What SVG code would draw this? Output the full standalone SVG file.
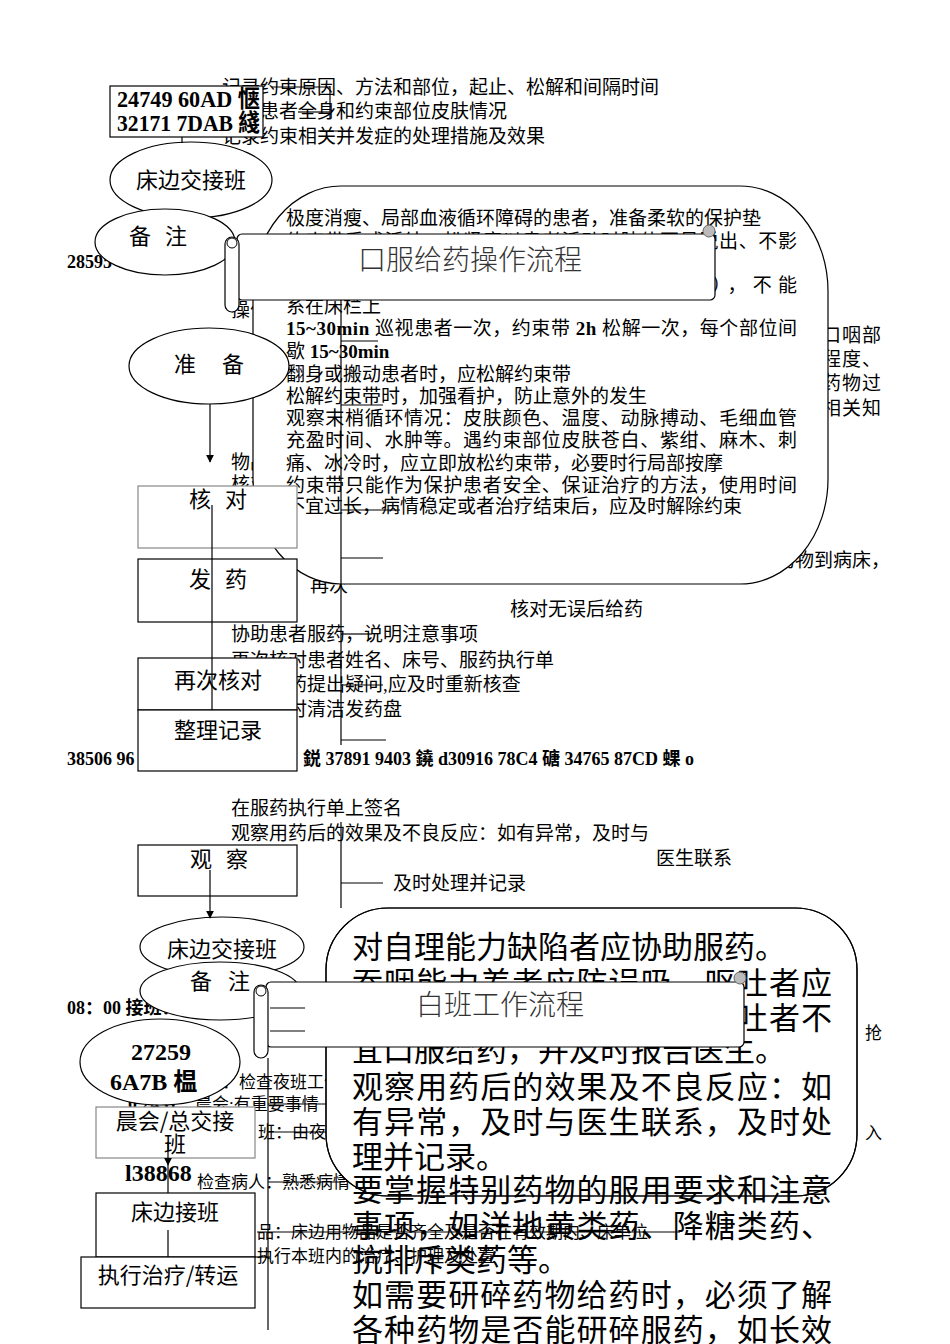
<svg xmlns="http://www.w3.org/2000/svg" width="950" height="1344" viewBox="0 0 950 1344">
<style>
.t{font-family:"Liberation Serif","Noto Sans CJK SC",serif;font-size:19px;fill:#000}
.s{font-family:"Liberation Serif","Noto Sans CJK SC",serif;font-size:17px;fill:#000}
.n{font-family:"Liberation Serif","Noto Sans CJK SC",serif;font-weight:bold;font-size:18px;fill:#000}
.nb{font-family:"Liberation Serif","Noto Sans CJK SC",serif;font-weight:bold;font-size:24px;fill:#000}
.nd{font-family:"Noto Sans CJK SC",sans-serif;font-size:22px;fill:#000;text-anchor:middle}
.big{font-family:"Noto Sans CJK SC",sans-serif;font-size:31px;fill:#000}
.ban{font-family:"Noto Sans CJK SC",sans-serif;font-weight:300;font-size:28px;fill:#333;text-anchor:middle}
.sh{fill:#fff;stroke:#000;stroke-width:1.2}
.gr{fill:#fff;stroke:#888;stroke-width:1.2}
.ln{fill:none;stroke:#000;stroke-width:1.2}
.b{font-weight:bold}
</style>
<defs>
<marker id="arr" viewBox="0 0 10 10" refX="9" refY="5" markerWidth="8" markerHeight="8" orient="auto" markerUnits="userSpaceOnUse">
<path d="M0,0 L10,5 L0,10 z" fill="#000"/>
</marker>
</defs>

<!-- background texts (partly hidden) -->
<g id="bg-texts">
<text class="t" x="222" y="94">记录约束原因、方法和部位，起止、松解和间隔时间</text>
<text class="t" x="222" y="118">观察患者全身和约束部位皮肤情况</text>
<text class="t" x="222" y="143">记录约束相关并发症的处理措施及效果</text>
<text class="n" x="67" y="268">28595 6FB3 澳 14</text>
<text class="t" x="231" y="317">操作前评估患者</text>
<text class="t" x="231" y="469">物品准备齐全</text>
<text class="t" x="231" y="491">核对医嘱</text>
<text class="t" x="882" y="342" text-anchor="end" letter-spacing="1">评估患者病情、吞咽能力及口咽部</text>
<text class="t" x="882" y="366" text-anchor="end" letter-spacing="1">了解患者合作程度、</text>
<text class="t" x="882" y="390" text-anchor="end" letter-spacing="1">有无药物过</text>
<text class="t" x="882" y="415" text-anchor="end" letter-spacing="1">敏史及相关知</text>
<text class="t" x="890" y="567" text-anchor="end">携带服药执行单及药物到病床，</text>
<text class="t" x="310" y="592">再次</text>
</g>

<g id="n-code1">
<rect class="sh" x="110" y="86" width="153" height="51"/>
<text class="nb" x="117" y="107" font-size="20" textLength="143" lengthAdjust="spacingAndGlyphs">24749 60AD 惬</text>
<text class="nb" x="117" y="131" font-size="20" textLength="143" lengthAdjust="spacingAndGlyphs">32171 7DAB 綫</text>
</g>

<g id="n-bedside1">
<ellipse class="sh" cx="191" cy="180" rx="81" ry="38"/>
<text class="nd" x="191" y="188">床边交接班</text>
</g>
<g id="n-note1">
<ellipse class="sh" cx="165" cy="242" rx="70" ry="33"/>
<text class="nd" x="165" y="244" letter-spacing="14">备注</text>
</g>

<!-- restraint note callout -->
<g id="n-restraint">
<rect class="sh" x="253" y="186" width="575" height="398" rx="88" ry="105"/>
<text class="t" x="286" y="225">极度消瘦、局部血液循环障碍的患者，准备柔软的保护垫</text>
<text class="t" x="286" y="248" textLength="511" lengthAdjust="spacing">约束带系成活结，松紧度以患者活动时肢体不易脱出、不影</text>
<text class="t" x="286" y="270">响血液循环为宜，约束带要牢固</text>
<text class="t" x="286" y="292" textLength="511" lengthAdjust="spacing">约束带松紧适宜（以能伸入<tspan class="b">1~2</tspan>指为宜），不能</text>
<text class="t" x="286" y="313">系在床栏上</text>
<text class="t" x="286" y="335" textLength="511" lengthAdjust="spacing"><tspan class="b">15~30min</tspan> 巡视患者一次，约束带 <tspan class="b">2h</tspan> 松解一次，每个部位间</text>
<text class="t" x="286" y="358">歇 <tspan class="b">15~30min</tspan></text>
<text class="t" x="286" y="381">翻身或搬动患者时，应松解约束带</text>
<text class="t" x="286" y="403">松解约束带时，加强看护，防止意外的发生</text>
<text class="t" x="286" y="425" textLength="511" lengthAdjust="spacing">观察末梢循环情况：皮肤颜色、温度、动脉搏动、毛细血管</text>
<text class="t" x="286" y="447" textLength="511" lengthAdjust="spacing">充盈时间、水肿等。遇约束部位皮肤苍白、紫绀、麻木、刺</text>
<text class="t" x="286" y="470">痛、冰冷时，应立即放松约束带，必要时行局部按摩</text>
<text class="t" x="286" y="492" textLength="511" lengthAdjust="spacing">约束带只能作为保护患者安全、保证治疗的方法，使用时间</text>
<text class="t" x="286" y="513">不宜过长，病情稳定或者治疗结束后，应及时解除约束</text>
</g>

<!-- middle free texts -->
<g id="mid-texts">
<text class="t" x="510" y="616">核对无误后给药</text>
<text class="t" x="231" y="641">协助患者服药，说明注意事项</text>
<text class="t" x="231" y="667">再次核对患者姓名、床号、服药执行单</text>
<text class="t" x="231" y="691">如对服药提出疑问,应及时重新核查</text>
<text class="t" x="231" y="716">用后及时清洁发药盘</text>
<text class="n" x="67" y="765">38506 96</text>
<text class="n" x="303" y="765">鋭 37891 9403 鐃 d30916 78C4 磄 34765 87CD 蜾 o</text>
<text class="t" x="231" y="815">在服药执行单上签名</text>
<text class="t" x="231" y="840">观察用药后的效果及不良反应：如有异常，及时与</text>
<text class="t" x="656" y="865">医生联系</text>
<text class="t" x="393" y="890">及时处理并记录</text>
</g>

<g id="n-prep">
<ellipse class="sh" cx="209" cy="366" rx="80" ry="38"/>
<text class="nd" x="222" y="372" font-size="26" letter-spacing="26">准备</text>
</g>
<g id="n-check">
<rect class="gr" x="138" y="486" width="159" height="62"/>
<text class="nd" x="225" y="507" font-size="25" letter-spacing="14">核对</text>
</g>
<g id="n-dispense">
<rect class="sh" x="138" y="559" width="159" height="63"/>
<text class="nd" x="225" y="587" font-size="25" letter-spacing="14">发药</text>
</g>
<g id="n-recheck">
<rect class="sh" x="138" y="658" width="159" height="52"/>
<text class="nd" x="218" y="688" font-size="25">再次核对</text>
</g>
<g id="n-record">
<rect class="sh" x="138" y="710" width="159" height="61"/>
<text class="nd" x="218" y="738" font-size="25">整理记录</text>
</g>
<g id="n-observe">
<rect class="sh" x="138" y="845" width="159" height="51"/>
<text class="nd" x="226" y="867" letter-spacing="14">观察</text>
</g>

<!-- bottom section background texts -->
<g id="bg-texts2">
<text class="n" x="67" y="1014">08：00 接班：护士</text>
<text class="s" x="205" y="1088">员：检查夜班工作</text>
<text class="n" x="128" y="1110">0 2431</text>
<text class="s" x="195" y="1110">晨会:有重要事情</text>
<text class="s" x="258" y="1138">班：由夜班</text>
<text class="s" x="197" y="1188">检查病人：熟悉病情</text>
<text class="s" x="882" y="1039" text-anchor="end">抢</text>
<text class="s" x="882" y="1139" text-anchor="end">入</text>
</g>

<g id="n-oral">
<rect class="sh" x="326" y="908" width="531" height="288" rx="62" ry="62"/>
<text class="big" x="352" y="958">对自理能力缺陷者应协助服药。</text>
<text class="big" x="352" y="994" textLength="480" lengthAdjust="spacing">吞咽能力差者应防误吸，呕吐者应</text>
<text class="big" x="352" y="1029" textLength="480" lengthAdjust="spacing">暂停给药；对严重恶心、呕吐者不</text>
<text class="big" x="352" y="1061">宜口服给药，并及时报告医生。</text>
<text class="big" x="352" y="1098" textLength="480" lengthAdjust="spacing">观察用药后的效果及不良反应：如</text>
<text class="big" x="352" y="1133" textLength="480" lengthAdjust="spacing">有异常，及时与医生联系，及时处</text>
<text class="big" x="352" y="1168">理并记录。</text>
<text class="big" x="352" y="1201" textLength="480" lengthAdjust="spacing">要掌握特别药物的服用要求和注意</text>
<text class="big" x="352" y="1237" textLength="480" lengthAdjust="spacing">事项，如洋地黄类药、降糖类药、</text>
<text class="big" x="352" y="1271">抗排斥类药等。</text>
<text class="big" x="352" y="1306" textLength="480" lengthAdjust="spacing">如需要研碎药物给药时，必须了解</text>
<text class="big" x="352" y="1341" textLength="480" lengthAdjust="spacing">各种药物是否能研碎服药，如长效</text>
<rect x="326" y="908" width="531" height="288" rx="62" ry="62" fill="none" stroke="#000" stroke-width="1.2"/>
</g>

<g id="bottom-small">
<text class="s" x="257" y="1238">品：床边用物品是否齐全及是否在有效期内、床单位</text>
<text class="s" x="257" y="1262">执行本班内的治疗、护理及处置</text>
</g>

<g id="n-bedside2">
<ellipse class="sh" cx="222" cy="947" rx="82" ry="30"/>
<text class="nd" x="222" y="957" font-size="21">床边交接班</text>
</g>
<g id="n-note2">
<ellipse class="sh" cx="220" cy="991" rx="80" ry="29"/>
<text class="nd" x="228" y="989" font-size="21" letter-spacing="16">备注</text>
</g>
<g id="n-code2">
<ellipse class="sh" cx="160" cy="1062" rx="80" ry="43"/>
<text class="nb" x="161" y="1060" text-anchor="middle">27259</text>
<text class="nb" x="110" y="1090">6A7B 榅</text>
</g>
<g id="n-morning">
<rect class="gr" x="96" y="1107" width="159" height="51"/>
<text class="nd" x="175" y="1129" font-size="24">晨会/总交接</text>
<text class="nd" x="175" y="1152" font-size="16">班</text>
</g>
<text class="nb" x="125" y="1181">l38868</text>
<g id="n-bedreceive">
<rect class="sh" x="96" y="1193" width="159" height="64"/>
<text class="nd" x="175" y="1220" font-size="21">床边接班</text>
</g>
<g id="n-treat">
<rect class="sh" x="81" y="1257" width="174" height="51"/>
<text class="nd" x="168" y="1283" font-size="21">执行治疗/转运</text>
</g>

<!-- banners -->
<g id="n-title1">
<rect class="sh" x="237" y="234" width="478" height="66" rx="5"/>
<circle cx="709" cy="231" r="6" fill="#bbb" stroke="#666" stroke-width="1"/>
<rect class="sh" x="225" y="237" width="14" height="75" rx="7"/>
<ellipse cx="232" cy="243" rx="5" ry="5" fill="#fff" stroke="#000" stroke-width="1"/>
<text class="ban" x="470" y="270">口服给药操作流程</text>
</g>
<g id="n-title2">
<rect class="sh" x="266" y="982" width="478" height="65" rx="5"/>
<circle cx="740" cy="978" r="6" fill="#bbb" stroke="#666" stroke-width="1"/>
<rect class="sh" x="254" y="985" width="14" height="73" rx="7"/>
<ellipse cx="261" cy="991" rx="5" ry="5" fill="#fff" stroke="#000" stroke-width="1"/>
<text class="ban" x="500" y="1015">白班工作流程</text>
</g>

<!-- connectors -->
<g id="connectors" class="ln">
<line x1="182" y1="137" x2="182" y2="143"/>
<line x1="330" y1="86" x2="330" y2="118"/>
<line x1="272" y1="87" x2="330" y2="87"/>
<line x1="298" y1="112" x2="330" y2="112"/>
<line x1="318" y1="131" x2="352" y2="131"/>
<line x1="210" y1="404" x2="210" y2="462" marker-end="url(#arr)"/>
<line x1="341" y1="300" x2="341" y2="745"/>
<line x1="341" y1="341" x2="378" y2="341"/>
<line x1="341" y1="405" x2="383" y2="405"/>
<line x1="341" y1="510" x2="400" y2="510"/>
<line x1="341" y1="558" x2="383" y2="558"/>
<line x1="341" y1="634" x2="372" y2="634"/>
<line x1="341" y1="685" x2="383" y2="685"/>
<line x1="341" y1="740" x2="386" y2="740"/>
<line x1="212" y1="505" x2="212" y2="710"/>
<line x1="341" y1="822" x2="341" y2="908"/>
<line x1="341" y1="883" x2="383" y2="883"/>
<line x1="210" y1="870" x2="210" y2="918" marker-end="url(#arr)"/>
<line x1="270" y1="1008" x2="305" y2="1008"/>
<line x1="270" y1="1031" x2="305" y2="1031"/>
<line x1="268" y1="1058" x2="268" y2="1330"/>
<line x1="268" y1="1104" x2="326" y2="1104"/>
<line x1="268" y1="1132" x2="326" y2="1132"/>
<line x1="268" y1="1182" x2="345" y2="1182"/>
<line x1="257" y1="1232" x2="680" y2="1232"/>
<line x1="255" y1="1257" x2="270" y2="1257"/>
<line x1="168" y1="1142" x2="168" y2="1165" marker-end="url(#arr)"/>
<line x1="168" y1="1165" x2="168" y2="1193"/>
<line x1="168" y1="1230" x2="168" y2="1257"/>
</g>
</svg>
